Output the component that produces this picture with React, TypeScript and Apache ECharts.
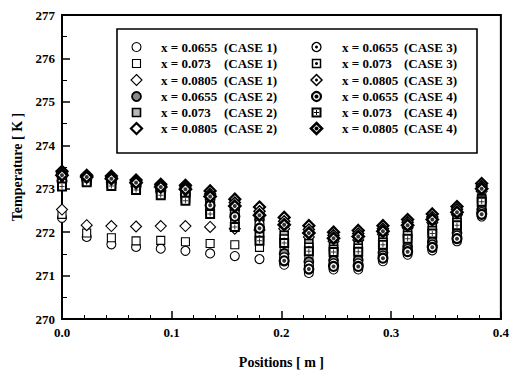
import React, { useEffect, useRef } from "react";
import * as echarts from "echarts";

// Positions along the channel [m]
const positions = [0, 0.0225, 0.045, 0.0675, 0.09, 0.1125, 0.135, 0.1575, 0.18, 0.2025, 0.225, 0.2475, 0.27, 0.2925, 0.315, 0.3375, 0.36, 0.3825];

// Temperatures [K]
const case1_0655 = [272.33, 271.89, 271.72, 271.66, 271.62, 271.57, 271.51, 271.45, 271.38, 271.25, 271.06, 271.14, 271.14, 271.33, 271.48, 271.58, 271.79, 272.36];
const case1_073 = [272.41, 271.98, 271.87, 271.80, 271.81, 271.78, 271.74, 271.71, 271.65, 271.66, 271.47, 271.47, 271.48, 271.64, 271.79, 271.90, 272.09, 272.66];
const case1_0805 = [272.52, 272.16, 272.14, 272.13, 272.14, 272.14, 272.12, 272.08, 272.05, 272.08, 271.89, 271.79, 271.82, 271.95, 272.10, 272.22, 272.40, 272.94];

const case2_0655 = [273.27, 273.25, 273.20, 273.11, 273.01, 272.95, 272.75, 272.52, 272.29, 271.51, 271.32, 271.35, 271.36, 271.53, 271.67, 271.78, 271.98, 272.52];
const case2_073 = [273.14, 273.19, 273.12, 273.03, 272.91, 272.81, 272.55, 272.28, 271.99, 271.93, 271.74, 271.67, 271.70, 271.84, 271.98, 272.10, 272.29, 272.78];
const case2_0805 = [273.40, 273.31, 273.29, 273.20, 273.10, 273.08, 272.95, 272.76, 272.58, 272.34, 272.15, 272.00, 272.04, 272.15, 272.29, 272.42, 272.59, 273.12];

const case3_0655 = [273.23, 273.23, 273.18, 273.09, 272.98, 272.90, 272.69, 272.44, 272.19, 271.42, 271.23, 271.28, 271.28, 271.46, 271.61, 271.71, 271.92, 272.46];
const case3_073 = [273.09, 273.17, 273.09, 273.00, 272.88, 272.77, 272.49, 272.20, 271.90, 271.84, 271.65, 271.60, 271.63, 271.77, 271.92, 272.03, 272.22, 272.74];
const case3_0805 = [273.36, 273.29, 273.26, 273.17, 273.07, 273.04, 272.88, 272.68, 272.48, 272.25, 272.06, 271.93, 271.97, 272.08, 272.23, 272.35, 272.53, 273.06];

const case4_0655 = [273.18, 273.21, 273.15, 273.06, 272.94, 272.86, 272.62, 272.36, 272.09, 271.34, 271.15, 271.21, 271.21, 271.40, 271.55, 271.65, 271.85, 272.41];
const case4_073 = [273.05, 273.15, 273.06, 272.97, 272.85, 272.72, 272.42, 272.12, 271.80, 271.75, 271.56, 271.54, 271.55, 271.71, 271.85, 271.97, 272.16, 272.70];
const case4_0805 = [273.31, 273.27, 273.23, 273.14, 273.04, 272.99, 272.82, 272.60, 272.39, 272.17, 271.98, 271.86, 271.90, 272.02, 272.16, 272.29, 272.46, 273.00];

const xTicks = ["0.0", "0.1", "0.2", "0.3", "0.4"];
const fractions = ["x = 0.0655", "x = 0.073", "x = 0.0805"];
const caseLabels = ["(CASE 1)", "(CASE 2)", "(CASE 3)", "(CASE 4)"];

const FONT = '"Liberation Serif", "DejaVu Serif", serif';
const PLUS = "path://M0,2H5V3H0Z M2,0H3V5H2Z";

type Shape = "circle" | "rect" | "diamond";
type Spec = {
  caseIdx: number;
  fracIdx: number;
  data: number[];
  shape: Shape;
  fill: string;
  lw: number;
  inner?: "dot" | "bigdot" | "plus";
};

const specs: Spec[] = [
  { caseIdx: 0, fracIdx: 0, data: case1_0655, shape: "circle", fill: "#fff", lw: 1.1 },
  { caseIdx: 0, fracIdx: 1, data: case1_073, shape: "rect", fill: "#fff", lw: 1.1 },
  { caseIdx: 0, fracIdx: 2, data: case1_0805, shape: "diamond", fill: "#fff", lw: 1.1 },
  { caseIdx: 1, fracIdx: 0, data: case2_0655, shape: "circle", fill: "#888", lw: 1.8 },
  { caseIdx: 1, fracIdx: 1, data: case2_073, shape: "rect", fill: "#b8b8b8", lw: 1.6 },
  { caseIdx: 1, fracIdx: 2, data: case2_0805, shape: "diamond", fill: "#fff", lw: 2.2 },
  { caseIdx: 2, fracIdx: 0, data: case3_0655, shape: "circle", fill: "#fff", lw: 1.3, inner: "dot" },
  { caseIdx: 2, fracIdx: 1, data: case3_073, shape: "rect", fill: "#fff", lw: 1.5, inner: "dot" },
  { caseIdx: 2, fracIdx: 2, data: case3_0805, shape: "diamond", fill: "#fff", lw: 1.5, inner: "dot" },
  { caseIdx: 3, fracIdx: 0, data: case4_0655, shape: "circle", fill: "#fff", lw: 2.2, inner: "bigdot" },
  { caseIdx: 3, fracIdx: 1, data: case4_073, shape: "rect", fill: "#fff", lw: 2, inner: "plus" },
  { caseIdx: 3, fracIdx: 2, data: case4_0805, shape: "diamond", fill: "#fff", lw: 2.6, inner: "bigdot" },
];

const sizeOf: Record<Shape, number> = { circle: 9, rect: 8, diamond: 11 };

function innerSymbol(inner: string): { symbol: string; size: number } {
  if (inner === "plus") return { symbol: PLUS, size: 5 };
  if (inner === "bigdot") return { symbol: "circle", size: 4 };
  return { symbol: "circle", size: 3 };
}

function buildSeries() {
  const out: any[] = [];
  specs.forEach((s) => {
    const pts = positions.map((p, i) => [p, s.data[i]]);
    const name = `${fractions[s.fracIdx]} ${caseLabels[s.caseIdx]}`;
    out.push({
      type: "scatter",
      name,
      data: pts,
      symbol: s.shape,
      symbolSize: sizeOf[s.shape],
      itemStyle: { color: s.fill, borderColor: "#000", borderWidth: s.lw, opacity: 1 },
      silent: true,
    });
    if (s.inner) {
      const ins = innerSymbol(s.inner);
      out.push({
        type: "scatter",
        name: name + " inner",
        data: pts,
        symbol: ins.symbol,
        symbolSize: ins.size,
        itemStyle: { color: "#000", borderWidth: 0 },
        silent: true,
      });
    }
  });
  return out;
}

function legendGraphics() {
  const els: any[] = [];
  const box = { x: 117, y: 29, w: 360, h: 124 };
  els.push({
    type: "rect",
    shape: { x: box.x, y: box.y, width: box.w, height: box.h },
    style: { fill: "#fff", stroke: "#000", lineWidth: 1.6 },
    z: 100,
  });
  const rowY = [47, 63.5, 80, 96.5, 112.5, 128.5];
  const colSym = [136.5, 316.5];
  const colText = [161, 342];
  const colCase = [224, 404];
  specs.forEach((s) => {
    const col = s.caseIdx < 2 ? 0 : 1;
    const row = (s.caseIdx % 2) * 3 + s.fracIdx;
    const cx = colSym[col];
    const cy = rowY[row];
    const style = { fill: s.fill, stroke: "#000", lineWidth: s.lw };
    if (s.shape === "circle") {
      els.push({ type: "circle", shape: { cx, cy, r: 4.5 }, style, z: 101 });
    } else if (s.shape === "rect") {
      els.push({ type: "rect", shape: { x: cx - 4, y: cy - 4, width: 8, height: 8 }, style, z: 101 });
    } else {
      els.push({
        type: "polygon",
        shape: { points: [[cx, cy - 5.5], [cx + 5.5, cy], [cx, cy + 5.5], [cx - 5.5, cy]] },
        style,
        z: 101,
      });
    }
    if (s.inner === "plus") {
      els.push({ type: "rect", shape: { x: cx - 2.5, y: cy - 0.5, width: 5, height: 1 }, style: { fill: "#000" }, z: 102 });
      els.push({ type: "rect", shape: { x: cx - 0.5, y: cy - 2.5, width: 1, height: 5 }, style: { fill: "#000" }, z: 102 });
    } else if (s.inner) {
      const r = s.inner === "bigdot" ? 2 : 1.5;
      els.push({ type: "circle", shape: { cx, cy, r }, style: { fill: "#000" }, z: 102 });
    }
    els.push({
      type: "text",
      x: colText[col],
      y: cy,
      style: { text: fractions[s.fracIdx], font: `bold 13px ${FONT}`, fill: "#000", verticalAlign: "middle" },
      z: 101,
    });
    els.push({
      type: "text",
      x: colCase[col],
      y: cy,
      style: { text: caseLabels[s.caseIdx], font: `bold 13px ${FONT}`, fill: "#000", verticalAlign: "middle" },
      z: 101,
    });
  });
  return els;
}

export default function App() {
  const ref = useRef<HTMLDivElement>(null);
  useEffect(() => {
    if (!ref.current) return;
    const chart = echarts.init(ref.current, undefined, { renderer: "svg" });
    chart.setOption({
      animation: false,
      backgroundColor: "#fff",
      grid: { left: 62, right: 9, top: 15, bottom: 51, show: true, borderColor: "#000", borderWidth: 2, backgroundColor: "transparent" },
      xAxis: {
        type: "value",
        min: 0,
        max: 0.4,
        interval: 0.1,
        name: "Positions [ m ]",
        nameLocation: "middle",
        nameGap: 36,
        nameTextStyle: { fontFamily: FONT, fontWeight: "bold", fontSize: 14, color: "#000" },
        axisLine: { show: true, lineStyle: { color: "#000", width: 2 } },
        axisTick: { show: true, inside: true, length: 8, lineStyle: { color: "#000", width: 1.5 } },
        minorTick: { show: true, splitNumber: 5, length: 4, lineStyle: { color: "#000", width: 1 } },
        splitLine: { show: false },
        axisLabel: {
          margin: 7,
          fontFamily: FONT,
          fontWeight: "bold",
          fontSize: 13,
          color: "#000",
          formatter: (v: number) => xTicks[Math.round(v * 10)] ?? "",
        },
      },
      yAxis: {
        type: "value",
        min: 270,
        max: 277,
        interval: 1,
        name: "Temperature [ K ]",
        nameLocation: "middle",
        nameGap: 38,
        nameTextStyle: { fontFamily: FONT, fontWeight: "bold", fontSize: 14, color: "#000" },
        axisLine: { show: true, lineStyle: { color: "#000", width: 2 } },
        axisTick: { show: true, inside: true, length: 8, lineStyle: { color: "#000", width: 1.5 } },
        minorTick: { show: true, splitNumber: 2, length: 5, lineStyle: { color: "#000", width: 1 } },
        splitLine: { show: false },
        axisLabel: { margin: 7, fontFamily: FONT, fontWeight: "bold", fontSize: 13, color: "#000" },
      },
      series: buildSeries(),
      graphic: legendGraphics(),
    });
    return () => chart.dispose();
  }, []);
  return <div ref={ref} style={{ position: "fixed", left: 0, top: 0, width: 512, height: 374, background: "#fff" }} />;
}
